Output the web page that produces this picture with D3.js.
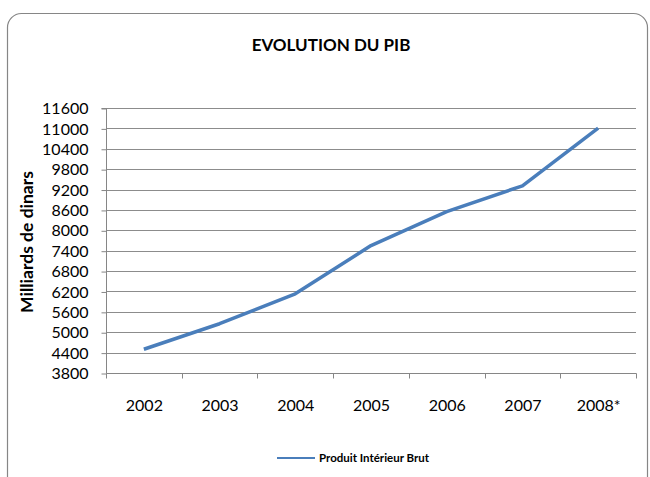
<!DOCTYPE html>
<html>
<head>
<meta charset="utf-8">
<script src="https://cdn.jsdelivr.net/npm/d3@7"></script>
<style>
  body { margin: 0; background: #fff; }
  text { font-family: Lato, "Open Sans", sans-serif; fill: #000; }
</style>
</head>
<body>
<svg id="chart" width="650" height="477"></svg>
<script>
const years = ['2002', '2003', '2004', '2005', '2006', '2007', '2008*'];
const pib = [4500, 5250, 6130, 7550, 8550, 9310, 11010];
const yTicks = [3800, 4400, 5000, 5600, 6200, 6800, 7400, 8000, 8600, 9200, 9800, 10400, 11000, 11600];

const svg = d3.select('#chart');
const plotLeft = 106, plotRight = 636, plotTop = 108, plotBottom = 373;

// chart frame
svg.append('rect')
    .attr('x', 7.5).attr('y', 13.5)
    .attr('width', 640).attr('height', 480)
    .attr('rx', 14).attr('ry', 14)
    .attr('fill', '#fff')
    .attr('stroke', '#868686')
    .attr('stroke-width', 1.2);

svg.append('text')
    .attr('x', 331).attr('y', 51)
    .attr('text-anchor', 'middle')
    .attr('font-weight', 'bold')
    .attr('font-size', 17)
    .text('EVOLUTION DU PIB');

const x = d3.scaleBand().domain(years).range([plotLeft, plotRight]);
const y = d3.scaleLinear().domain([3800, 11600]).range([plotBottom, plotTop]);

// gridlines
svg.append('g')
    .selectAll('line')
    .data(yTicks.slice(1))
    .join('line')
    .attr('x1', plotLeft).attr('x2', plotRight)
    .attr('y1', d => Math.round(y(d)) + 0.5)
    .attr('y2', d => Math.round(y(d)) + 0.5)
    .attr('stroke', '#8c8c8c');

const yAxis = svg.append('g')
    .attr('transform', `translate(${plotLeft + 0.5},0.5)`)
    .call(d3.axisLeft(y).tickValues(yTicks).tickSize(5).tickPadding(13).tickFormat(d3.format('d')));
yAxis.selectAll('text').attr('font-size', 16).style('font-family', 'Lato, sans-serif');
yAxis.selectAll('line, path').attr('stroke', '#868686');
yAxis.select('.domain').attr('d', `M-5,${y(11600)}H0V${plotBottom}`);

const xAxis = svg.append('g')
    .attr('transform', `translate(0.5,${plotBottom + 0.5})`)
    .call(d3.axisBottom(x).tickSize(0).tickPadding(26));
xAxis.selectAll('text').attr('font-size', 16).style('font-family', 'Lato, sans-serif');
xAxis.select('.domain').attr('stroke', '#868686').attr('d', `M${plotLeft},0H${plotRight}`);
// ticks at category boundaries
xAxis.append('g')
    .selectAll('line')
    .data(years.map(d => x(d)).concat([plotRight]))
    .join('line')
    .attr('x1', d => Math.round(d)).attr('x2', d => Math.round(d))
    .attr('y1', 0).attr('y2', 5)
    .attr('stroke', '#868686');

svg.append('text')
    .attr('transform', `translate(33,242) rotate(-90)`)
    .attr('text-anchor', 'middle')
    .attr('font-weight', 'bold')
    .attr('font-size', 17.5)
    .text('Milliards de dinars');

const line = d3.line()
    .x((d, i) => x(years[i]) + x.bandwidth() / 2)
    .y(d => y(d));

svg.append('path')
    .datum(pib)
    .attr('d', line)
    .attr('fill', 'none')
    .attr('stroke', '#4a7ebb')
    .attr('stroke-width', 3.5)
    .attr('stroke-linejoin', 'round');

// legend
const lg = svg.append('g').attr('transform', 'translate(277,458)');
lg.append('line')
    .attr('x1', 0).attr('x2', 38)
    .attr('stroke', '#4a7ebb').attr('stroke-width', 2);
lg.append('text')
    .attr('x', 42).attr('y', 4)
    .attr('font-weight', 'bold')
    .attr('font-size', 11.5)
    .text('Produit Intérieur Brut');
</script>
</body>
</html>
